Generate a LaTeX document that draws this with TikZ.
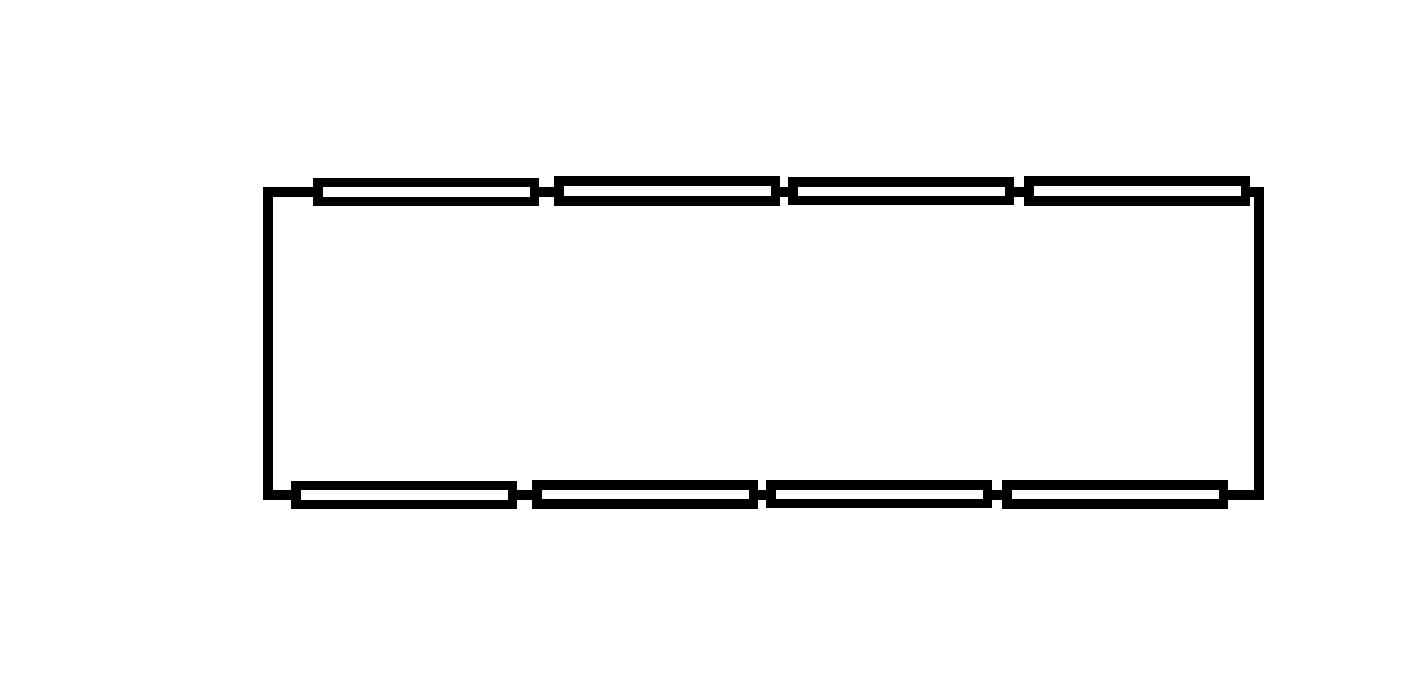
\documentclass[tikz,border=0pt]{standalone}
\tikzset{
  cell/.style={draw=black,line width=9.5pt,fill=white,rectangle,inner sep=0pt,outer sep=0pt,minimum width=216.5pt},
  wire/.style={draw=black,line width=10pt,line cap=butt,line join=miter}
}
\begin{document}
\begin{tikzpicture}[x=1pt,y=-1pt]
\useasboundingbox (0,0) rectangle (1416,672);
\coordinate (ty) at (0,192);
\coordinate (by) at (0,495);
\coordinate (tl) at (268,192);
\coordinate (bl) at (268,495);
\coordinate (tr) at (1259,192);
\coordinate (br) at (1259,495);
% cells of the top row
\node[cell,minimum height=19pt] (t1) at (426,192) {};
\node[cell,minimum height=20pt] (t2) at (667,191) {};
\node[cell,minimum height=18.5pt] (t3) at (901,191.25) {};
\node[cell,minimum height=20pt] (t4) at (1137,191) {};
% cells of the bottom row
\node[cell,minimum height=19pt] (b1) at (404,495) {};
\node[cell,minimum height=19pt] (b2) at (645,494.5) {};
\node[cell,minimum height=18.5pt] (b3) at (879,494.25) {};
\node[cell,minimum height=19pt] (b4) at (1115,494.5) {};
% connectors along the top row
\draw[wire] (t1.east |- ty) -- (t2.west |- ty);
\draw[wire] (t2.east |- ty) -- (t3.west |- ty);
\draw[wire] (t3.east |- ty) -- (t4.west |- ty);
% connectors along the bottom row
\draw[wire] (b1.east |- by) -- (b2.west |- by);
\draw[wire] (b2.east |- by) -- (b3.west |- by);
\draw[wire] (b3.east |- by) -- (b4.west |- by);
% outer loop
\draw[wire] (t1.west |- ty) -- (tl) -- (bl) -- (b1.west |- by);
\draw[wire] (t4.east |- ty) -- (tr) -- (br) -- (b4.east |- by);
\end{tikzpicture}
\end{document}
